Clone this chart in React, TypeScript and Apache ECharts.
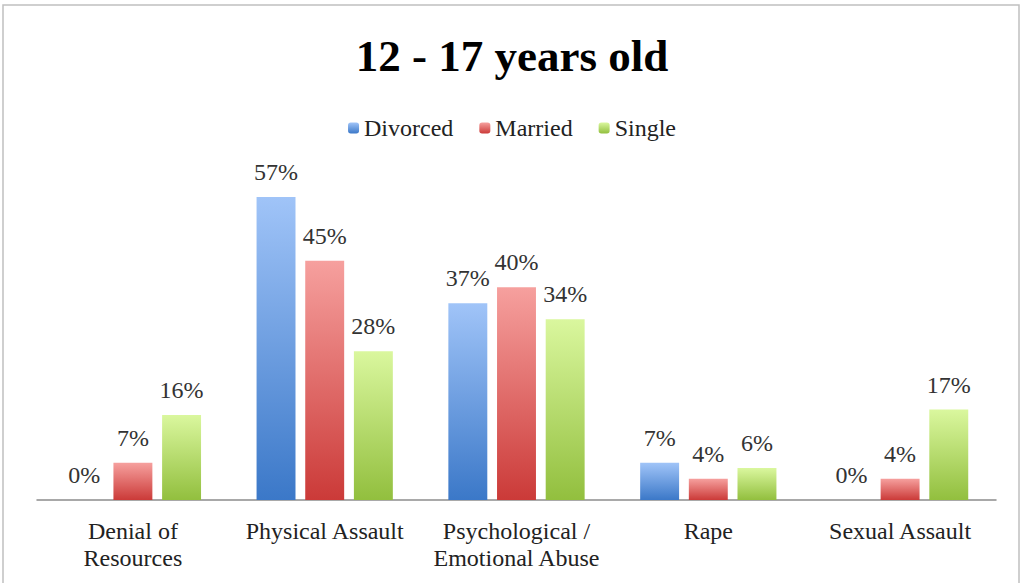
import React, { useEffect, useRef } from "react";
import * as echarts from "echarts";

const categories = ["Denial of\nResources", "Physical Assault", "Psychological /\nEmotional Abuse", "Rape", "Sexual Assault"];
const divorced = [0, 57, 37, 7, 0];
const married = [7, 45, 40, 4, 4];
const single = [16, 28, 34, 6, 17];
const seriesNames = ["Divorced", "Married", "Single"];

const FONT = "'Liberation Serif', 'DejaVu Serif', serif";

function grad(top: string, bottom: string) {
  return new echarts.graphic.LinearGradient(0, 0, 0, 1, [
    { offset: 0, color: top },
    { offset: 1, color: bottom },
  ]);
}

export default function App() {
  const ref = useRef<HTMLDivElement>(null);
  useEffect(() => {
    if (!ref.current) return;
    const chart = echarts.init(ref.current, undefined, { renderer: "svg" });
    const colors = [
      grad("#a0c4f8", "#3b78c8"),
      grad("#f6a09e", "#cb3a38"),
      grad("#daf79e", "#92bf3e"),
    ];
    const dataSets = [divorced, married, single];
    chart.setOption({
      animation: false,
      backgroundColor: "#ffffff",
      title: {
        text: "12 - 17 years old",
        left: "center",
        top: 28,
        textStyle: { fontFamily: FONT, fontSize: 45, fontWeight: "bold", color: "#000" },
      },
      legend: {
        top: 111,
        left: "center",
        itemWidth: 11,
        itemHeight: 11,
        itemGap: 26,
        textStyle: { fontFamily: FONT, fontSize: 24, color: "#222" },
        data: seriesNames,
      },
      graphic: [
        {
          type: "rect",
          shape: { x: 3, y: 5, width: 1016, height: 620 },
          style: { fill: "none", stroke: "#c0c0c0", lineWidth: 1.5 },
          silent: true,
        },
      ],
      grid: { left: 37, right: 28, top: 181, bottom: 83 },
      xAxis: {
        type: "category",
        data: categories,
        axisLine: { lineStyle: { color: "#8c8c8c", width: 1.5 } },
        axisTick: { show: false },
        axisLabel: {
          fontFamily: FONT,
          fontSize: 24,
          color: "#222",
          margin: 17,
          lineHeight: 27,
          interval: 0,
        },
      },
      yAxis: {
        type: "value",
        min: 0,
        max: 60,
        show: false,
        splitLine: { show: false },
      },
      series: seriesNames.map((name, i) => ({
        name,
        type: "bar",
        data: dataSets[i],
        barWidth: "20.3%",
        barGap: "25%",
        itemStyle: { color: colors[i] },
        label: {
          show: true,
          position: "top",
          distance: 13,
          formatter: "{c}%",
          fontFamily: FONT,
          fontSize: 24,
          color: "#333",
        },
      })),
    });
    return () => chart.dispose();
  }, []);
  return (
    <div
      ref={ref}
      style={{ position: "fixed", left: 0, top: 0, width: 1024, height: 583 }}
    />
  );
}
